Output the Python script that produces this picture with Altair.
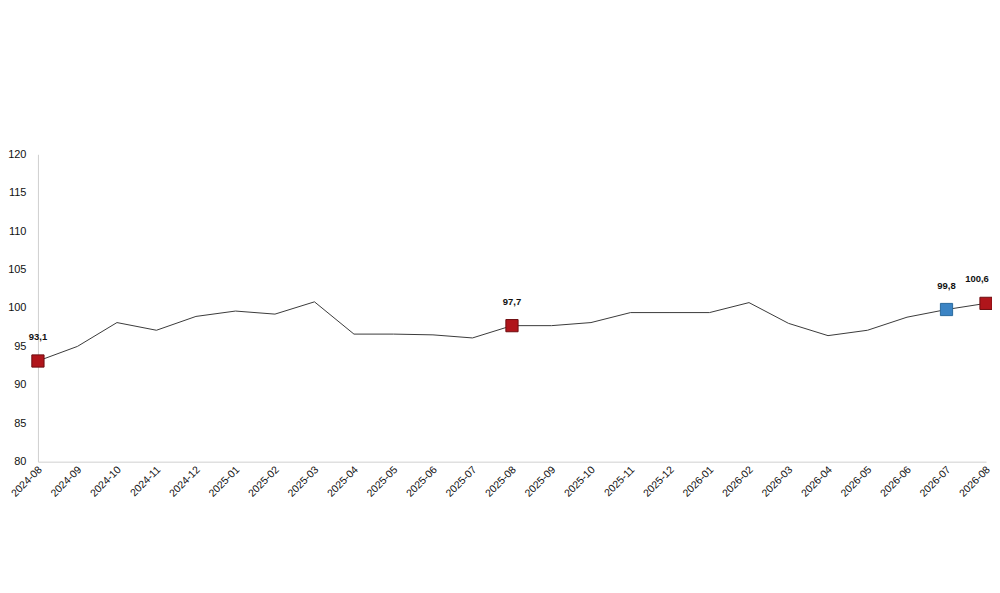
import altair as alt
import pandas as pd

months = [
    "2024-08", "2024-09", "2024-10", "2024-11", "2024-12",
    "2025-01", "2025-02", "2025-03", "2025-04", "2025-05", "2025-06",
    "2025-07", "2025-08", "2025-09", "2025-10", "2025-11", "2025-12",
    "2026-01", "2026-02", "2026-03", "2026-04", "2026-05", "2026-06",
    "2026-07", "2026-08",
]
values = [
    93.1, 95.0, 98.1, 97.1, 98.9, 99.6, 99.2, 100.8, 96.6, 96.6, 96.5,
    96.1, 97.7, 97.7, 98.1, 99.4, 99.4, 99.4, 100.7, 98.0, 96.4, 97.1,
    98.8, 99.8, 100.6,
]

# highlighted months and their marker colour group
marked_months = ["2024-08", "2025-08", "2026-07", "2026-08"]
marked_groups = ["year", "year", "month", "year"]

df = pd.DataFrame({"month": months, "value": values})
marks = df[df["month"].isin(marked_months)].copy()
marks["group"] = marked_groups
marks["label"] = marks["value"].map(lambda v: f"{v:.1f}".replace(".", ","))

x = alt.X(
    "month:O",
    sort=None,
    title=None,
    scale=alt.Scale(type="point", padding=0),
    axis=alt.Axis(
        labelAngle=-45,
        labelAlign="right",
        labelBaseline="middle",
        labelFontSize=10.5,
        labelColor="#111111",
        labelPadding=6,
        labelOffset=2,
        ticks=False,
        domainColor="#d0d0d0",
        labelOverlap=False,
    ),
)
y = alt.Y(
    "value:Q",
    title=None,
    scale=alt.Scale(domain=[80, 120], nice=False, zero=False),
    axis=alt.Axis(
        values=list(range(80, 121, 5)),
        grid=False,
        ticks=False,
        labelFontSize=11,
        labelColor="#111111",
        labelPadding=12,
        domainColor="#d0d0d0",
    ),
)

line = alt.Chart(df).mark_line(color="#3a3a3a", strokeWidth=1).encode(x=x, y=y)

points = alt.Chart(marks).mark_square(size=150, opacity=1, strokeWidth=1).encode(
    x=x,
    y=y,
    color=alt.Color(
        "group:N",
        scale=alt.Scale(domain=["year", "month"], range=["#b0151b", "#3b84c4"]),
        legend=None,
    ),
    stroke=alt.Stroke(
        "group:N",
        scale=alt.Scale(domain=["year", "month"], range=["#6e0d10", "#2a6a9e"]),
        legend=None,
    ),
)

last_month = months[-1]
labels = (
    alt.Chart(marks)
    .mark_text(dy=-24, fontSize=9.5, fontWeight="bold", color="#111111")
    .encode(x=x, y=y, text="label:N")
    .transform_filter(alt.datum.month != last_month)
)
# last label sits at the right edge, nudge it inward so it is not cut
last_label = (
    alt.Chart(marks)
    .mark_text(dy=-24, dx=-9, fontSize=9.5, fontWeight="bold", color="#111111")
    .encode(x=x, y=y, text="label:N")
    .transform_filter(alt.datum.month == last_month)
)

chart = (
    alt.layer(line, points, labels, last_label)
    .properties(
        width=950,
        height=308,
        autosize=alt.AutoSizeParams(type="none"),
        padding={"left": 30, "top": 146, "right": 6, "bottom": 123},
    )
    .configure(font="Liberation Sans")
    .configure_view(strokeWidth=0, stroke="transparent")
)

chart.save("out.html", embed_options={"renderer": "svg", "actions": False})
